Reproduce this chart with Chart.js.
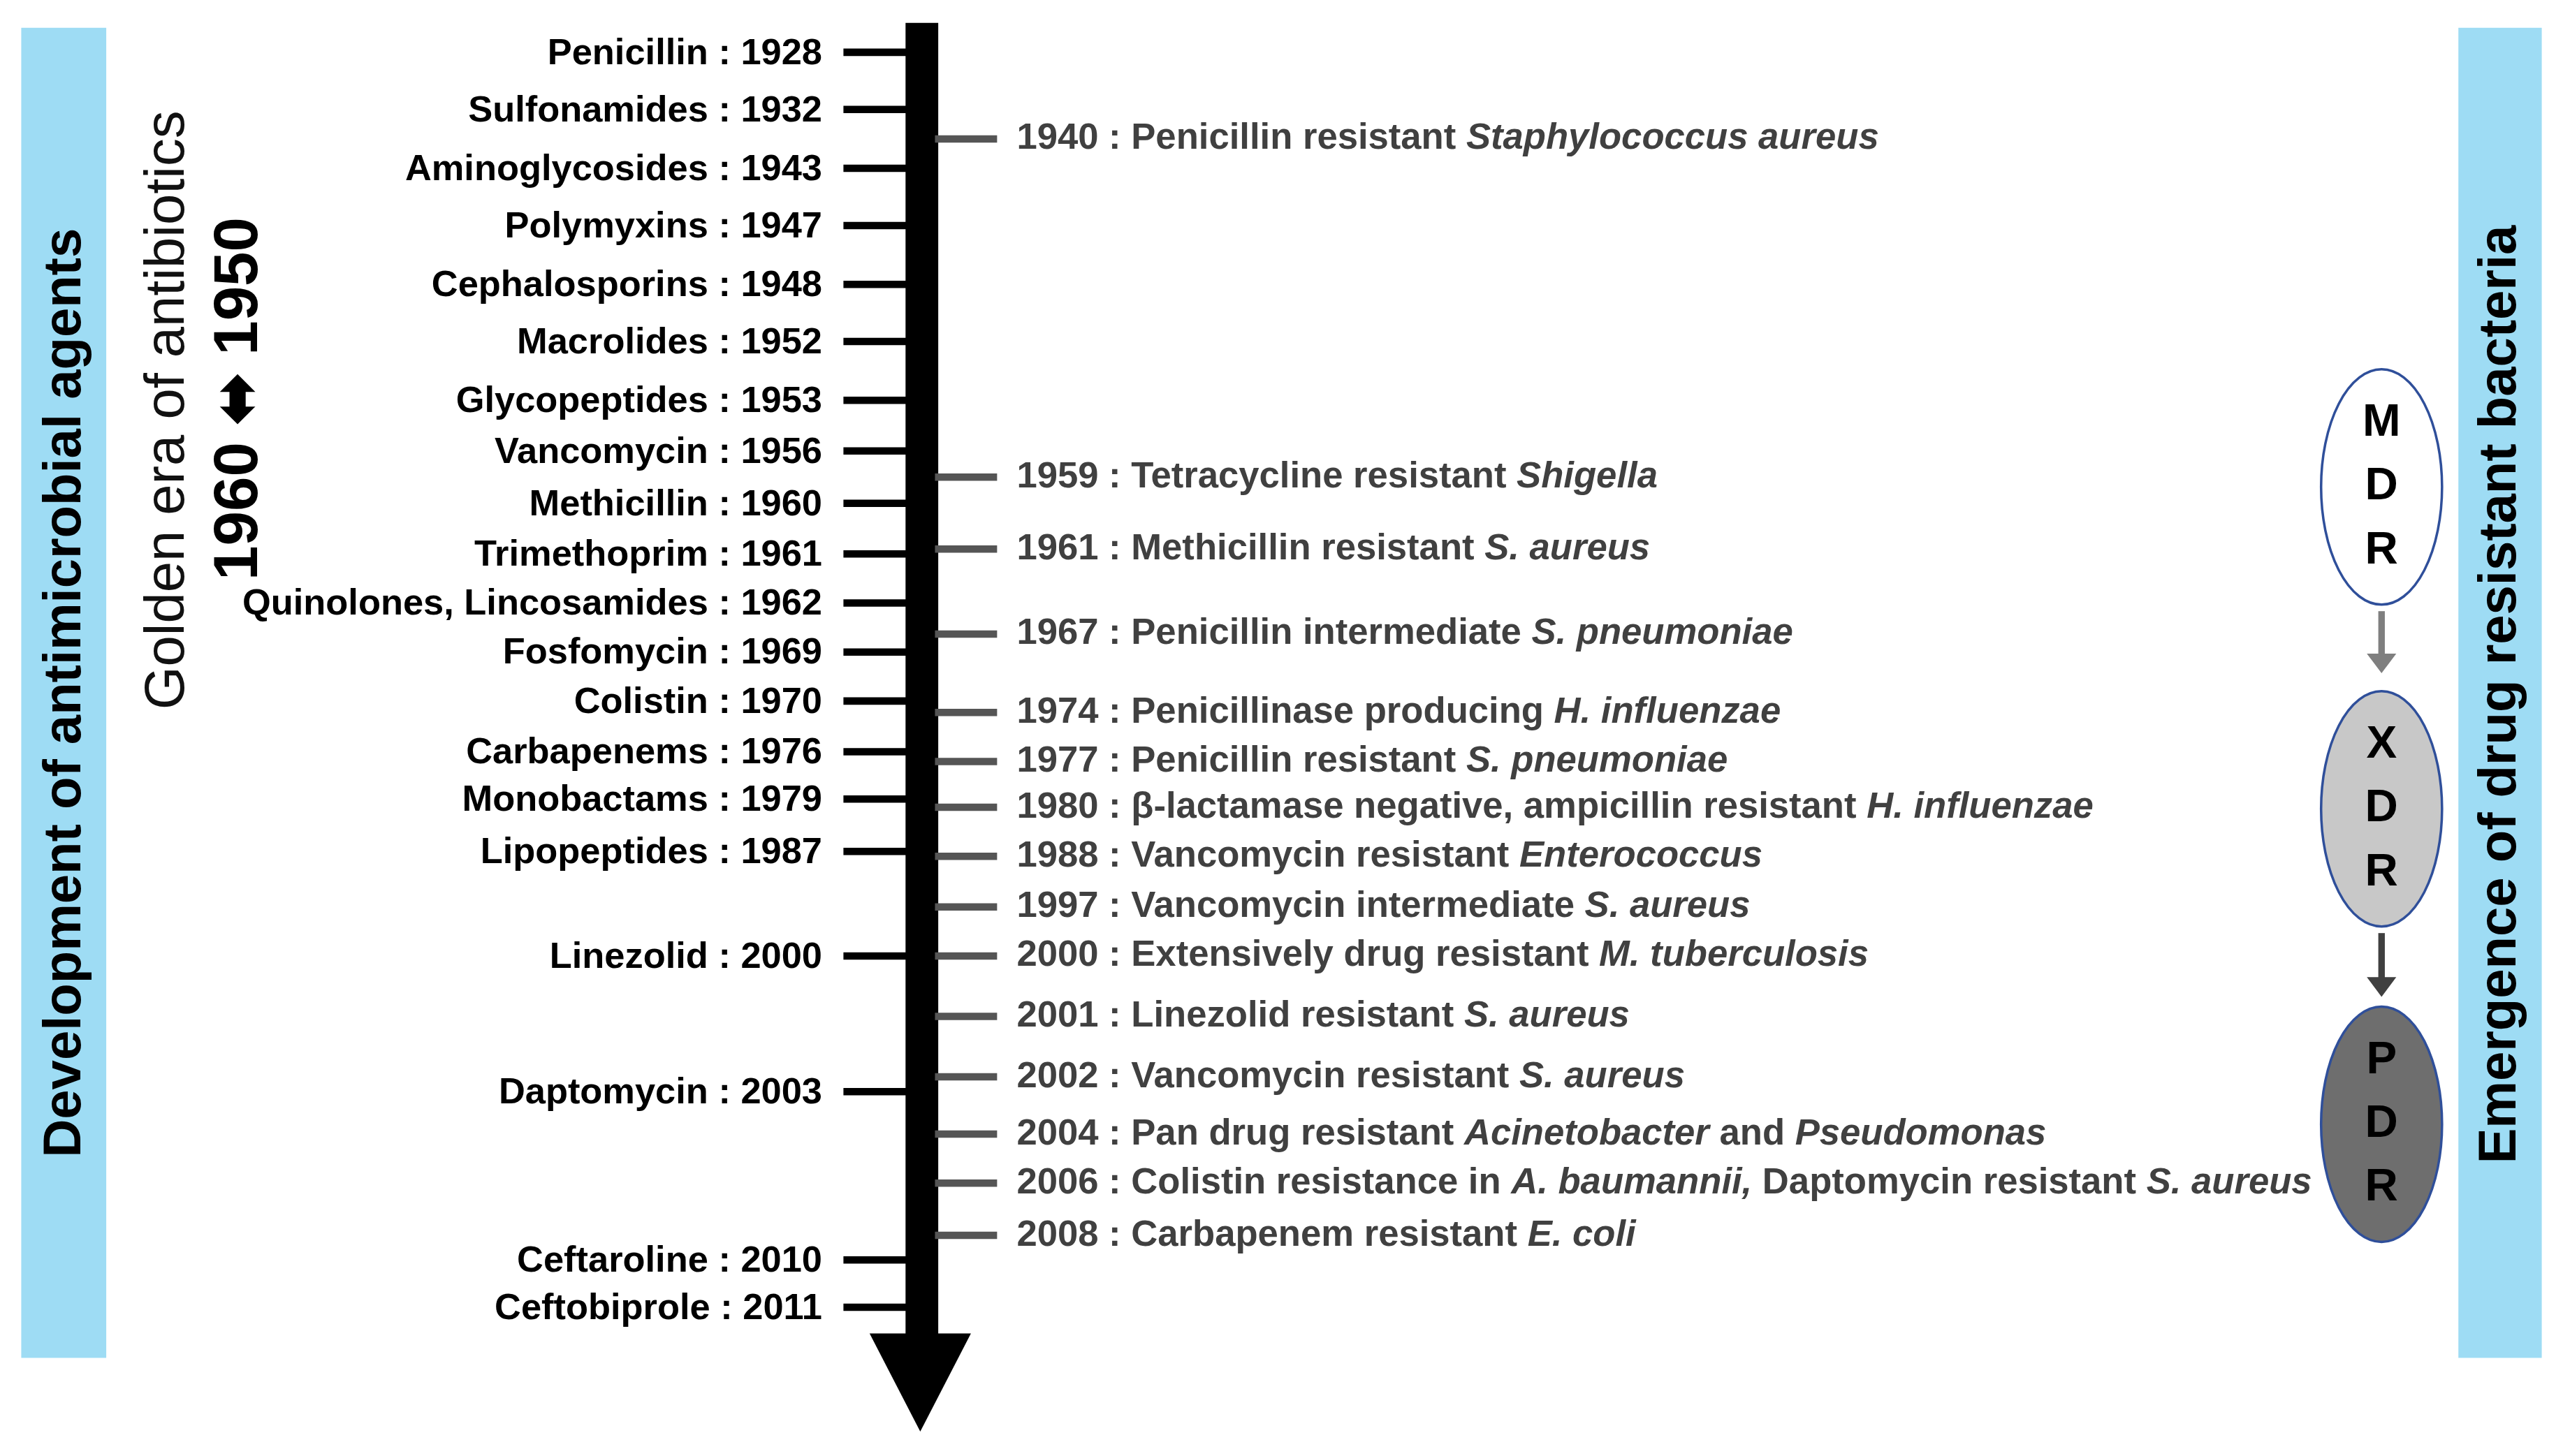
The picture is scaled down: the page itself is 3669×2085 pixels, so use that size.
<!DOCTYPE html>
<html><head><meta charset="utf-8">
<script src="https://cdn.jsdelivr.net/npm/chart.js@4/dist/chart.umd.min.js"></script>
<style>html,body{margin:0;padding:0;background:#fff}#c{display:block}</style></head>
<body><canvas id="c" width="3669" height="2085"></canvas>
<script>
// Left: antimicrobial agents (label, row position on timeline)
const agentLabels=["Penicillin : 1928","Sulfonamides : 1932","Aminoglycosides : 1943","Polymyxins : 1947","Cephalosporins : 1948","Macrolides : 1952","Glycopeptides : 1953","Vancomycin : 1956","Methicillin : 1960","Trimethoprim : 1961","Quinolones, Lincosamides : 1962","Fosfomycin : 1969","Colistin : 1970","Carbapenems : 1976","Monobactams : 1979","Lipopeptides : 1987","Linezolid : 2000","Daptomycin : 2003","Ceftaroline : 2010","Ceftobiprole : 2011"];
const agentRows=[32,67,103,138,174,209,245,276,308,339,369,399,429,460,489,521,585,668,771,800];
// Right: resistance events; segments between * are italic
const resistLabels=["1940 : Penicillin resistant *Staphylococcus aureus","1959 : Tetracycline resistant *Shigella","1961 : Methicillin resistant *S. aureus","1967 : Penicillin intermediate *S. pneumoniae","1974 : Penicillinase producing *H. influenzae","1977 : Penicillin resistant *S. pneumoniae","1980 : β-lactamase negative, ampicillin resistant *H. influenzae","1988 : Vancomycin resistant *Enterococcus","1997 : Vancomycin intermediate *S. aureus","2000 : Extensively drug resistant *M. tuberculosis","2001 : Linezolid resistant *S. aureus","2002 : Vancomycin resistant *S. aureus","2004 : Pan drug resistant *Acinetobacter* and *Pseudomonas","2006 : Colistin resistance in *A. baumannii,* Daptomycin resistant *S. aureus","2008 : Carbapenem resistant *E. coli"];
const resistRows=[85,292,336,388,436,466,494,524,555,585,622,659,694,724,756];
const classes=["MDR","XDR","PDR"];
const classRows=[298,495,688];

const W=1568,H=891;
const F="Arial, 'Liberation Sans', sans-serif";
const drawPlugin={id:'draw',afterDraw(ch){
  const c=ch.ctx,xs=ch.scales.x,ys=ch.scales.y,s=ch.width/W;
  const X=v=>xs.getPixelForValue(v),Y=v=>ys.getPixelForValue(v);
  c.save();
  c.fillStyle='#9edcf4';
  c.fillRect(X(13),Y(17),52*s,814*s);
  c.fillRect(X(1504),Y(17),51*s,814*s);
  c.fillStyle='#000';
  c.fillRect(X(554),Y(14),20*s,(822-14)*s);
  c.beginPath();c.moveTo(X(532),Y(816));c.lineTo(X(594),Y(816));c.lineTo(X(563),Y(876));c.closePath();c.fill();
  c.lineWidth=4.5*s;c.strokeStyle='#000';
  c.font=`bold ${22.4*s}px ${F}`;c.textAlign='right';c.textBaseline='middle';
  agentLabels.forEach((t,i)=>{const y=Y(agentRows[i]);
    c.beginPath();c.moveTo(X(516),y);c.lineTo(X(556),y);c.stroke();
    c.fillStyle='#000';c.fillText(t,X(503),y+1*s);});
  c.strokeStyle='#555';c.textAlign='left';
  resistLabels.forEach((t,i)=>{const y=Y(resistRows[i]);
    c.beginPath();c.moveTo(X(572),y);c.lineTo(X(610),y);c.stroke();
    let x=X(622);t.split('*').forEach((seg,k)=>{
      c.font=`${k%2?'italic ':''}bold ${22.5*s}px ${F}`;c.fillStyle='#404040';
      c.fillText(seg,x,y);x+=c.measureText(seg).width;});});
  const vt=(txt,x,y,font,col)=>{c.save();c.translate(X(x),Y(y));c.rotate(-Math.PI/2);
    c.font=font;c.fillStyle=col;c.textAlign='center';c.textBaseline='middle';c.fillText(txt,0,0);c.restore();};
  vt("Development of antimicrobial agents",40,424,`bold ${32.5*s}px ${F}`,'#000');
  vt("Emergence of drug resistant bacteria",1530,425,`bold ${32.5*s}px ${F}`,'#000');
  vt("Golden era of antibiotics",103,251,`500 ${34*s}px ${F}`,'#111');
  vt("1960 ⬌ 1950",147,244,`bold ${38*s}px ${F}`,'#000');
  const fills=['#ffffff','#c8c8c8','#6e6e6e'];
  classes.forEach((t,i)=>{const cy=Y(classRows[i]);
    c.beginPath();c.ellipse(X(1457),cy,37*s,72*s,0,0,2*Math.PI);c.fillStyle=fills[i];c.fill();
    c.lineWidth=1.5*s;c.strokeStyle='#2f4f9a';c.stroke();
    c.fillStyle='#000';c.font=`bold ${28*s}px ${F}`;c.textAlign='center';c.textBaseline='middle';
    t.split('').forEach((ch2,k)=>c.fillText(ch2,X(1457),cy+(k-1)*39*s));});
  const arr=(y1,y2,col)=>{c.strokeStyle=col;c.fillStyle=col;c.lineWidth=4*s;
    c.beginPath();c.moveTo(X(1457),Y(y1));c.lineTo(X(1457),Y(y2-10));c.stroke();
    c.beginPath();c.moveTo(X(1448),Y(y2-12));c.lineTo(X(1466),Y(y2-12));c.lineTo(X(1457),Y(y2));c.closePath();c.fill();};
  arr(374,412,'#7f7f7f');arr(571,610,'#404040');
  c.restore();}};
new Chart(document.getElementById('c'),{type:'scatter',
  data:{datasets:[{data:agentRows.map(r=>({x:536,y:r})),pointRadius:0},{data:resistRows.map(r=>({x:591,y:r})),pointRadius:0}]},
  options:{responsive:false,animation:false,layout:{padding:0},
    plugins:{legend:{display:false},tooltip:{enabled:false}},
    scales:{x:{type:'linear',min:0,max:W,display:false},y:{type:'linear',min:0,max:H,reverse:true,display:false}}},
  plugins:[drawPlugin]});
</script></body></html>
